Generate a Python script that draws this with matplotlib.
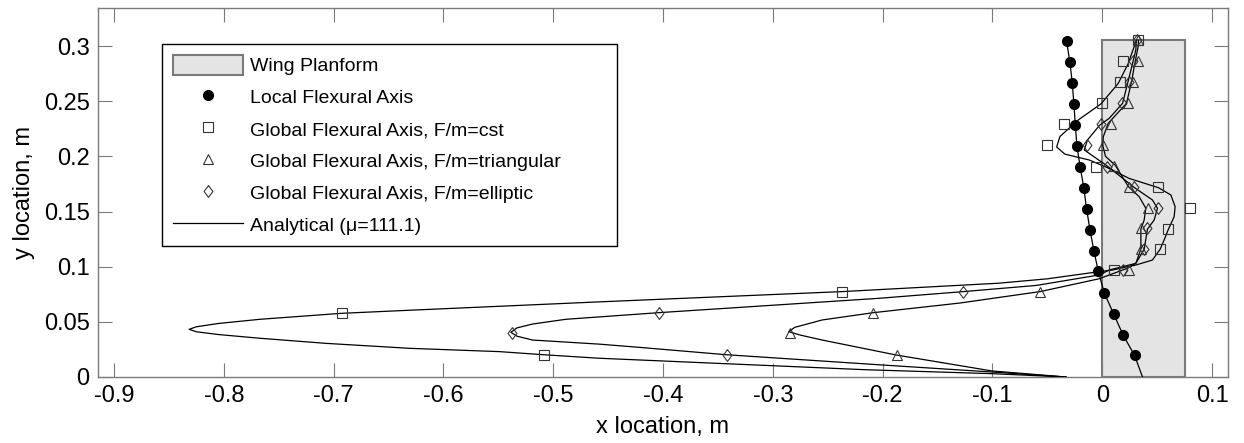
import matplotlib
matplotlib.use("Agg")
import matplotlib.pyplot as plt
from matplotlib.patches import Rectangle

plt.rcParams['font.family'] = ['Liberation Sans', 'DejaVu Sans']

# wing planform (x0, chord, span)
wing_x0 = 0.0
wing_chord = 0.0755
wing_span = 0.3055

# local flexural axis (line + markers)
loc_x = [-0.0325, -0.0294, -0.0273, -0.0258, -0.0245, -0.023, -0.020, -0.0167,
         -0.0143, -0.0112, -0.0076, -0.0036, 0.0018, 0.0103, 0.019, 0.0294]
loc_y = [0.3046, 0.2853, 0.2665, 0.2475, 0.2282, 0.209, 0.190, 0.171,
         0.1526, 0.1336, 0.1145, 0.0958, 0.0764, 0.0574, 0.038, 0.0197]
loc_line_x = loc_x + [0.0367]
loc_line_y = loc_y + [0.0]

# global flexural axis markers
cst_x = [-0.508, -0.692, -0.237, 0.0103, 0.0527, 0.060, 0.0797, 0.051,
         -0.0057, -0.050, -0.0348, -0.0006, 0.0164, 0.019, 0.0327]
cst_y = [0.0202, 0.0583, 0.0774, 0.0967, 0.1158, 0.1345, 0.1535, 0.172,
         0.1907, 0.210, 0.2294, 0.2487, 0.2678, 0.2865, 0.3055]

tri_x = [-0.187, -0.284, -0.2085, -0.0566, 0.0245, 0.0352, 0.0352, 0.0415,
         0.0242, 0.011, 0.0003, 0.0082, 0.0233, 0.0276, 0.0327, 0.033]
tri_y = [0.0202, 0.0399, 0.0583, 0.0774, 0.0967, 0.1157, 0.1348, 0.1535,
         0.172, 0.191, 0.210, 0.2294, 0.2484, 0.2675, 0.2862, 0.3055]

ell_x = [-0.3415, -0.5375, -0.404, -0.1264, 0.0185, 0.0376, 0.0412, 0.051,
         0.029, 0.0048, -0.0143, -0.0015, 0.0179, 0.024, 0.028, 0.032]
ell_y = [0.0202, 0.0395, 0.0583, 0.0774, 0.0967, 0.1157, 0.1348, 0.1535,
         0.172, 0.1907, 0.210, 0.2294, 0.2484, 0.2675, 0.2862, 0.3055]

# analytical curves
an_cst_x = [-0.033, -0.10, -0.2158, -0.4582, -0.509, -0.549, -0.631, -0.707, -0.767,
            -0.805, -0.825, -0.8315, -0.825, -0.805, -0.767, -0.693, -0.631, -0.458,
            -0.237, -0.0945, -0.05, -0.0027, 0.0094, 0.0306, 0.0457, 0.0527, 0.0564,
            0.0603, 0.0655, 0.0664, 0.0625, 0.0512, 0.0245, 0.0064, -0.0118, -0.034,
            -0.0415, -0.0385, -0.0218, -0.0012, 0.0145, 0.0236, 0.0312]
an_cst_y = [0.0, 0.003, 0.0066, 0.017, 0.0202, 0.023, 0.026, 0.0305, 0.0351,
            0.0385, 0.041, 0.0432, 0.0455, 0.0485, 0.0523, 0.0577, 0.0605, 0.0681,
            0.0774, 0.085, 0.089, 0.0955, 0.097, 0.1015, 0.106, 0.1157, 0.1242,
            0.134, 0.1453, 0.1544, 0.165, 0.1716, 0.180, 0.189, 0.1967, 0.202,
            0.2085, 0.218, 0.233, 0.2475, 0.266, 0.284, 0.3055]

an_tri_x = [-0.033, -0.1006, -0.188, -0.255, -0.275, -0.2855, -0.28, -0.255,
            -0.2085, -0.13, -0.0566, -0.003, 0.0215, 0.0306, 0.0352, 0.0352, 0.0382,
            0.0397, 0.0336, 0.0239, 0.0118, 0.003, 0.0005, 0.001, 0.0055, 0.0221,
            0.0267, 0.0297, 0.0327, 0.033]
an_tri_y = [0.0, 0.0055, 0.020, 0.0335, 0.038, 0.0411, 0.045, 0.0517,
            0.0583, 0.067, 0.0774, 0.089, 0.098, 0.103, 0.116, 0.134, 0.1423,
            0.153, 0.1635, 0.1725, 0.192, 0.200, 0.210, 0.2179, 0.23, 0.248,
            0.2677, 0.2844, 0.2995, 0.3055]

an_ell_x = [-0.033, -0.10, -0.1945, -0.3425, -0.4218, -0.4582, -0.5188, -0.533,
            -0.5385, -0.533, -0.5188, -0.4885, -0.404, -0.2036, -0.1264, -0.06,
            -0.0027, 0.0064, 0.0306, 0.0382, 0.0412, 0.0473, 0.0503, 0.0457, 0.0294,
            0.0245, 0.0033, -0.0164, -0.0134, -0.0021, 0.0064, 0.0185, 0.0261,
            0.0306, 0.031]
an_ell_y = [0.0, 0.0045, 0.0105, 0.0202, 0.0269, 0.0298, 0.0335, 0.037,
            0.0405, 0.0445, 0.048, 0.0523, 0.0583, 0.0713, 0.0774, 0.083,
            0.0925, 0.097, 0.103, 0.1157, 0.134, 0.1423, 0.153, 0.1605, 0.1716,
            0.1755, 0.1922, 0.2058, 0.2149, 0.2285, 0.2345, 0.248, 0.278,
            0.2965, 0.3055]

xticks = [-0.9, -0.8, -0.7, -0.6, -0.5, -0.4, -0.3, -0.2, -0.1, 0.0, 0.1]
xticklabels = ['-0.9', '-0.8', '-0.7', '-0.6', '-0.5', '-0.4', '-0.3', '-0.2', '-0.1', '0', '0.1']
yticks = [0.0, 0.05, 0.1, 0.15, 0.2, 0.25, 0.3]
yticklabels = ['0', '0.05', '0.1', '0.15', '0.2', '0.25', '0.3']

fig = plt.figure(figsize=(12.44, 4.43), dpi=100)
ax = fig.add_axes([0.0788, 0.149, 0.9083, 0.833])

wing = Rectangle((wing_x0, 0), wing_chord, wing_span, facecolor='#e4e4e4',
                 edgecolor='#7a7a7a', linewidth=1.5, zorder=1, label='Wing Planform')
ax.add_patch(wing)

ax.plot(loc_line_x, loc_line_y, color='k', lw=0.9, zorder=3)
for cx, cy in [(an_cst_x, an_cst_y), (an_tri_x, an_tri_y), (an_ell_x, an_ell_y)]:
    ax.plot(cx, cy, color='k', lw=0.9, zorder=3)

ax.plot(loc_x, loc_y, 'o', ms=7, mfc='k', mec='k', zorder=4, label='Local Flexural Axis')
mk = dict(ls='none', mfc='none', mec='#333333', mew=0.8, zorder=4)
ax.plot(cst_x, cst_y, marker='s', ms=7, label='Global Flexural Axis, F/m=cst', **mk)
ax.plot(tri_x, tri_y, marker='^', ms=7.5, label='Global Flexural Axis, F/m=triangular', **mk)
diamond = [(0, 1), (0.75, 0), (0, -1), (-0.75, 0), (0, 1)]
ax.plot(ell_x, ell_y, marker=diamond, ms=8.5, label='Global Flexural Axis, F/m=elliptic', **mk)
ax.plot([], [], color='k', lw=0.9, label='Analytical (\u03bc=111.1)')

ax.set_xlim(-0.9145, 0.1145)
ax.set_ylim(0, 0.3345)
ax.set_xticks(xticks)
ax.set_xticklabels(xticklabels)
ax.set_yticks(yticks)
ax.set_yticklabels(yticklabels)
ax.tick_params(direction='in', top=True, right=True, length=10, width=0.8,
               color='#7a7a7a', labelsize=17, pad=6)
for s in ax.spines.values():
    s.set_color('#7a7a7a')
    s.set_linewidth(1.0)

ax.set_xlabel('x location, m', fontsize=17, labelpad=6)
ax.set_ylabel('y location, m', fontsize=17, labelpad=6)

leg = ax.legend(loc='upper left', bbox_to_anchor=(0.0566, 0.363, 0.4027, 0.539),
                mode='expand', borderaxespad=0, fontsize=14, frameon=True,
                fancybox=False, framealpha=1, edgecolor='k', handlelength=3.6,
                handleheight=1.2, handletextpad=0.4, labelspacing=0.59, borderpad=0.55)
leg.get_frame().set_linewidth(1.0)

fig.savefig('out.png', dpi=100)
